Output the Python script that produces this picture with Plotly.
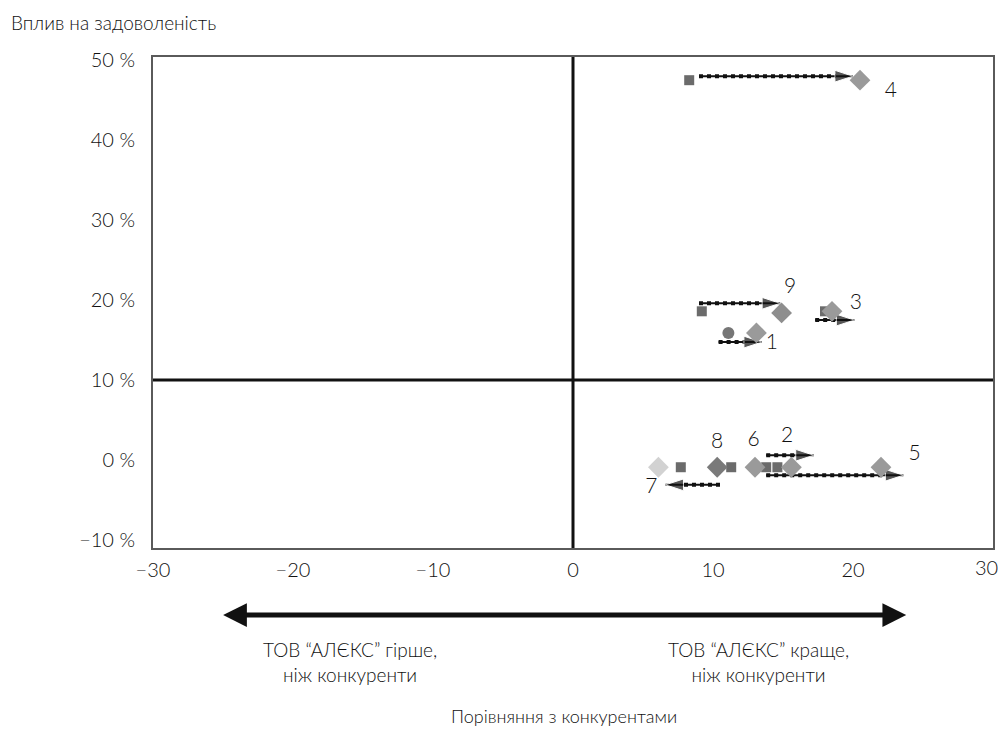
import plotly.graph_objects as go

# ---- data ----
square_x = [8.3, 9.2, 18.0, 7.7, 11.3, 13.8, 14.6]
square_y = [47.5, 18.6, 18.6, -0.9, -0.9, -0.9, -0.9]

diamond_x = [20.5, 14.9, 18.5, 13.1, 6.1, 10.3, 13.0, 15.6, 22.0]
diamond_y = [47.5, 18.4, 18.6, 15.9, -0.9, -0.9, -0.9, -0.9, -0.9]
diamond_colors = ["#9a9a9a", "#8e8e8e", "#9a9a9a", "#9a9a9a", "#d2d2d2",
                  "#7a7a7a", "#9a9a9a", "#9a9a9a", "#9a9a9a"]

circle_x = [11.1]
circle_y = [15.9]

arrow_names = ["4", "9", "3", "1", "2", "5", "7"]
arrow_x0 = [9.0, 9.0, 17.3, 10.4, 13.8, 13.8, 10.5]
arrow_x1 = [20.0, 14.8, 20.1, 13.5, 17.2, 23.6, 6.6]
arrow_y = [48.0, 19.6, 17.5, 14.75, 0.6, -1.9, -3.1]

label_text = ["1", "2", "3", "4", "5", "6", "7", "8", "9"]
label_x = [14.2, 15.3, 20.2, 22.7, 24.4, 12.9, 5.6, 10.3, 15.5]
label_y = [14.6, 2.9, 19.6, 46.1, 0.6, 2.4, -3.5, 2.1, 21.5]

x_ticks = [-30, -20, -10, 0, 10, 20]
x_tick_text = ["\u221230", "\u221220", "\u221210", "0", "10", "20"]
x_last_tick = 30
x_last_text = "30"
y_ticks = [-10, 0, 10, 20, 30, 40, 50]
y_tick_text = ["\u221210 %", "0 %", "10 %", "20 %", "30 %", "40 %", "50 %"]

FONT = "Lato"
W = 300
TXT = "#111111"


def f(size):
    return dict(family=FONT, size=size, color=TXT, weight=W)


fig = go.Figure()

# quadrant lines
fig.add_shape(type="line", xref="x", yref="y", x0=0, x1=0, y0=-11, y1=50.4,
              line=dict(color="#111111", width=3))
fig.add_shape(type="line", xref="x", yref="y", x0=-30, x1=30, y0=10, y1=10,
              line=dict(color="#111111", width=3))

# arrows (hatched look: solid + thick dotted, with arrowhead marker)
for nm, x0, x1, y in zip(arrow_names, arrow_x0, arrow_x1, arrow_y):
    fig.add_trace(go.Scatter(x=[x0, x1], y=[y, y], mode="lines",
                             line=dict(color="#111111", width=2),
                             showlegend=False, hoverinfo="skip"))
    fig.add_trace(go.Scatter(x=[x0, x1], y=[y, y], mode="lines+markers",
                             line=dict(color="#111111", width=4, dash="dot"),
                             marker=dict(symbol="arrow", angleref="previous",
                                         size=[0, 19], color="#111111"),
                             showlegend=False, hoverinfo="skip"))

fig.add_trace(go.Scatter(x=square_x, y=square_y, mode="markers",
                         marker=dict(symbol="square", size=10, color="#6b6b6b"),
                         showlegend=False))
fig.add_trace(go.Scatter(x=diamond_x, y=diamond_y, mode="markers",
                         marker=dict(symbol="diamond", size=16, color=diamond_colors),
                         showlegend=False))
fig.add_trace(go.Scatter(x=circle_x, y=circle_y, mode="markers",
                         marker=dict(symbol="circle", size=12, color="#767676"),
                         showlegend=False))
fig.add_trace(go.Scatter(x=label_x, y=label_y, mode="text", text=label_text,
                         textfont=f(21), showlegend=False))

fig.update_xaxes(range=[-30, 30], tickvals=x_ticks, ticktext=x_tick_text,
                 showgrid=False, zeroline=False, showline=True, mirror=True,
                 linecolor="#5a5a5a", linewidth=2, ticks="outside", ticklen=3,
                 tickcolor="rgba(0,0,0,0)", tickfont=f(20))
fig.update_yaxes(range=[-11, 50.4], tickvals=y_ticks, ticktext=y_tick_text,
                 showgrid=False, zeroline=False, showline=True, mirror=True,
                 linecolor="#5a5a5a", linewidth=2, ticks="outside", ticklen=12,
                 tickcolor="rgba(0,0,0,0)", tickfont=f(20))

anns = [
    dict(text=x_last_text, xref="x", yref="paper", x=x_last_tick, y=-0.039,
         xanchor="center", yanchor="middle", xshift=-7, showarrow=False,
         font=f(20)),
    dict(text="Вплив на задоволеність", xref="paper", yref="paper",
         x=-0.172, y=1.071, xanchor="left", yanchor="middle", showarrow=False,
         font=f(19)),
    dict(text="ТОВ “АЛЄКС” гірше,<br>ніж конкуренти", xref="paper", yref="paper",
         x=0.234, y=-0.232, xanchor="center", yanchor="middle", showarrow=False,
         font=f(19)),
    dict(text="ТОВ “АЛЄКС” краще,<br>ніж конкуренти", xref="paper", yref="paper",
         x=0.721, y=-0.232, xanchor="center", yanchor="middle", showarrow=False,
         font=f(19)),
    dict(text="Порівняння з конкурентами", xref="paper", yref="paper",
         x=0.489, y=-0.342, xanchor="center", yanchor="middle", showarrow=False,
         font=f(18)),
    dict(text="", xref="x", yref="paper", x=23.8, y=-0.1365,
         axref="x", ayref="pixel", ax=-25.1, ay=0, showarrow=True,
         arrowhead=2, arrowside="end+start", arrowsize=0.95, arrowwidth=5,
         arrowcolor="#111111"),
]

fig.update_layout(width=1000, height=729,
                  margin=dict(l=153, r=5, t=57, b=181),
                  plot_bgcolor="white", paper_bgcolor="white",
                  annotations=anns, font=dict(family=FONT))

fig.write_html("out.html")
